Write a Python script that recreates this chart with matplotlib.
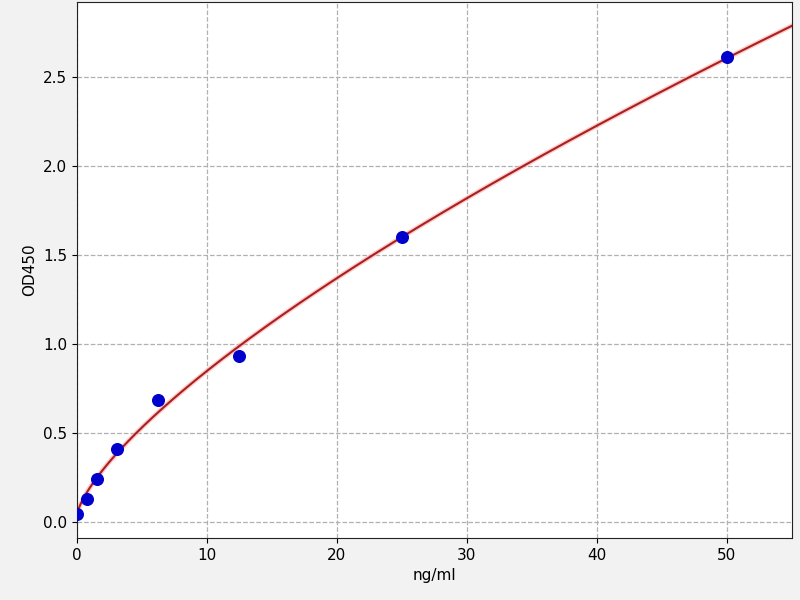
import numpy as np
import matplotlib
matplotlib.use("Agg")
import matplotlib.pyplot as plt

conc = [0.0, 0.78, 1.56, 3.125, 6.25, 12.5, 25.0, 50.0]
od = [0.045, 0.13, 0.245, 0.41, 0.685, 0.93, 1.60, 2.61]

x = np.array(conc)
y = np.array(od)

# fit y = a + b * x^c (least squares on a grid of c)
best = None
for c in np.linspace(0.3, 1.2, 901):
    A = np.column_stack([np.ones_like(x), x ** c])
    coef, res, *_ = np.linalg.lstsq(A, y, rcond=None)
    err = np.sum((A @ coef - y) ** 2)
    if best is None or err < best[0]:
        best = (err, c, coef)
_, cexp, (a, b) = best
xf = np.linspace(0, 55, 500)
yf = a + b * xf ** cexp

fig = plt.figure(figsize=(8, 6), dpi=100, facecolor="#f2f2f2")
ax = fig.add_axes([0.096, 0.103, 0.894, 0.894])
ax.set_facecolor("white")
ax.plot(xf, yf, color="#ffaaaa", lw=3.5, alpha=0.6, zorder=2)
ax.plot(xf, yf, color="#a82020", lw=1.5, zorder=3)
ax.scatter(x, y, s=70, color="#0000cc", zorder=4)
ax.set_xlim(0, 55)
ax.set_ylim(-0.09, 2.92)
ax.set_xticks([0, 10, 20, 30, 40, 50])
ax.set_yticks([0.0, 0.5, 1.0, 1.5, 2.0, 2.5])
ax.grid(True, color="#b0b0b0", linestyle="--", linewidth=0.9)
ax.set_axisbelow(True)
ax.set_xlabel("ng/ml", fontsize=11)
ax.set_ylabel("OD450", fontsize=11)
ax.tick_params(labelsize=11)
for s in ax.spines.values():
    s.set_color("#222222")
fig.savefig("out.png", dpi=100, facecolor=fig.get_facecolor())
